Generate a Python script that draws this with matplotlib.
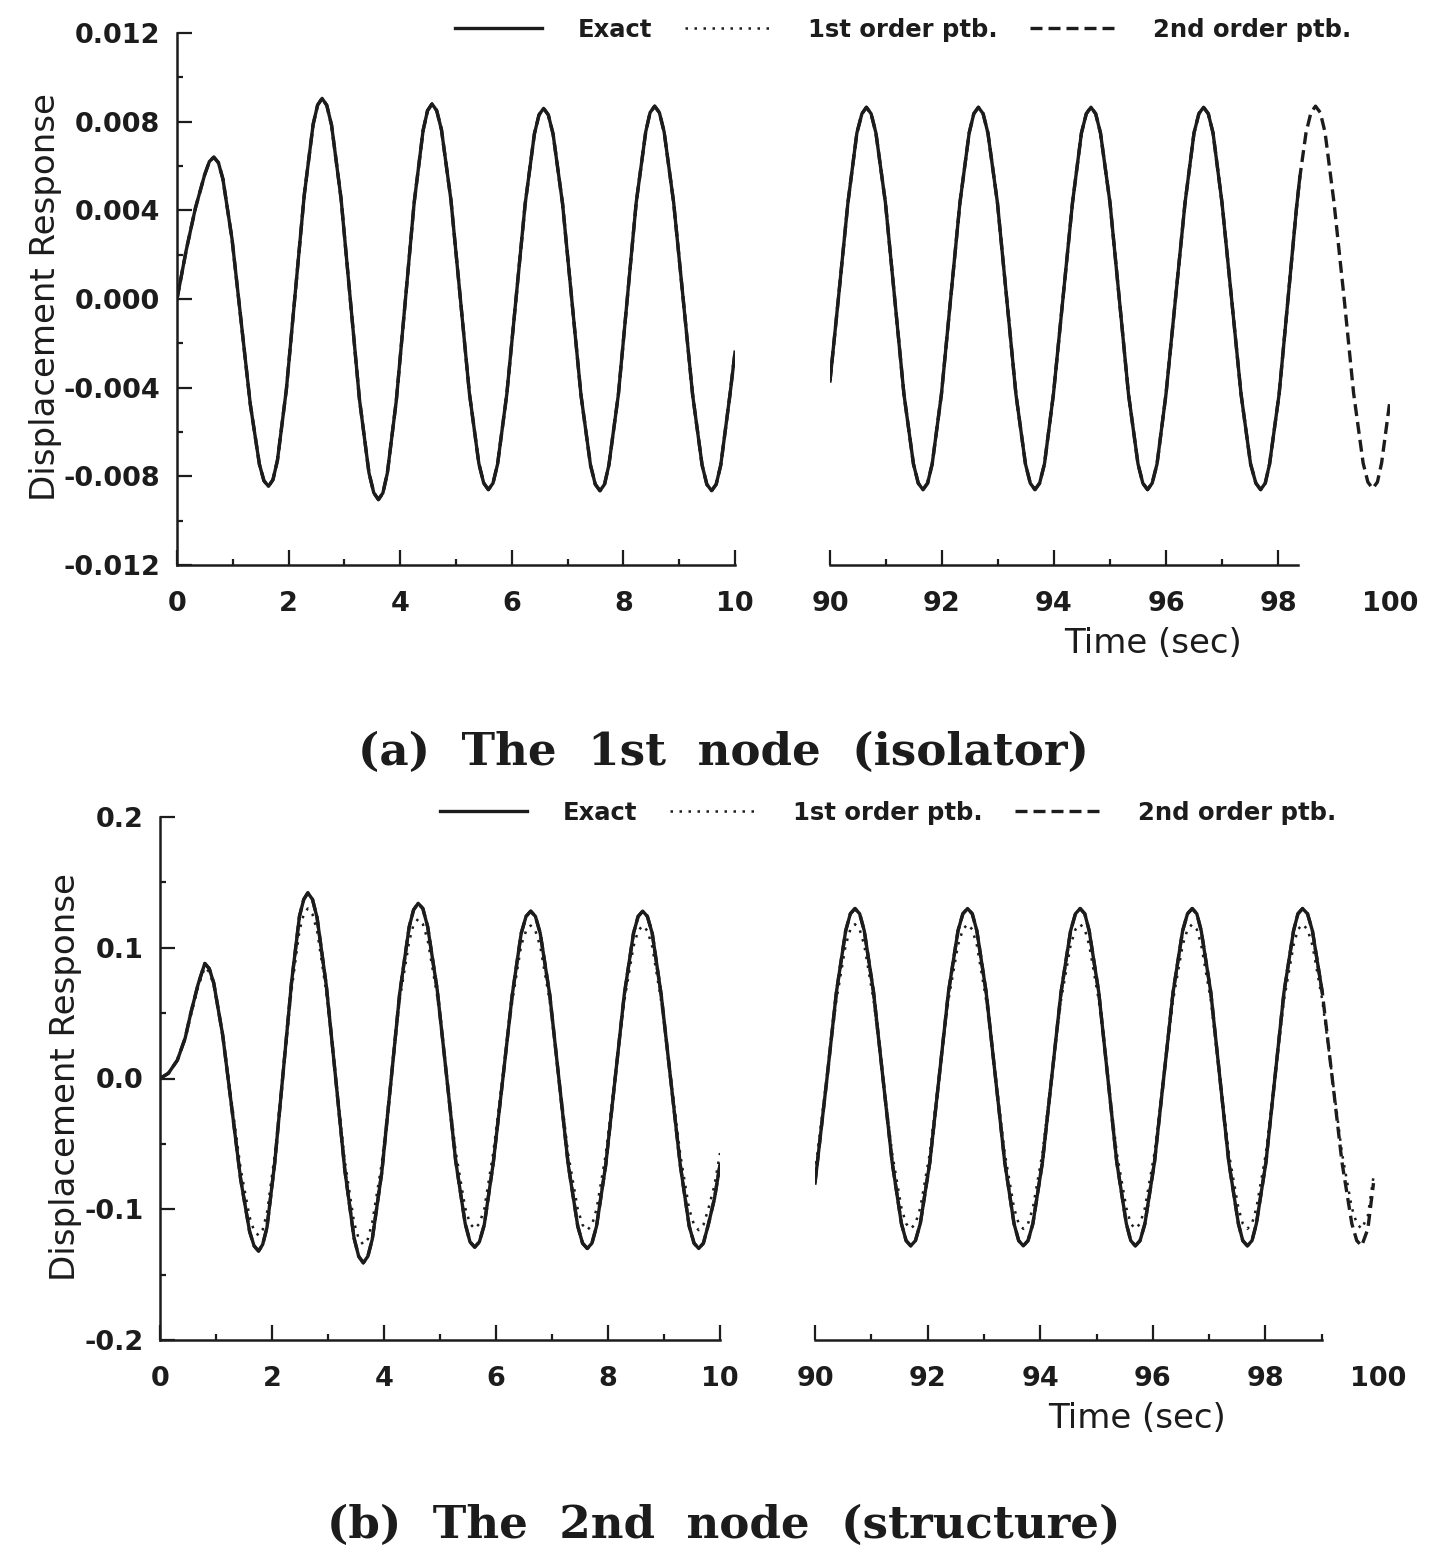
import numpy as np
import matplotlib.pyplot as plt
from matplotlib.ticker import FixedLocator

plt.rcParams['font.family'] = ['DejaVu Sans']
plt.rcParams['font.weight'] = 'bold'
plt.rcParams['axes.unicode_minus'] = False

INK = '#1c1c1c'

# ---------------- (a) 1st node (isolator), displacement in 1e-3 ----------------
a_left_t = [0.0, 0.165, 0.33, 0.495, 0.58, 0.66,
            0.742, 0.823, 0.987, 1.15, 1.313, 1.477, 1.558, 1.64,
            1.72, 1.80, 1.96, 2.12, 2.28, 2.44, 2.52, 2.60,
            2.684, 2.77, 2.94, 3.105, 3.27, 3.44, 3.526, 3.61,
            3.69, 3.77, 3.93, 4.09, 4.25, 4.41, 4.49, 4.57,
            4.654, 4.74, 4.91, 5.075, 5.24, 5.41, 5.496, 5.58,
            5.663, 5.745, 5.91, 6.075, 6.24, 6.405, 6.488, 6.57,
            6.654, 6.74, 6.91, 7.075, 7.24, 7.41, 7.496, 7.58,
            7.662, 7.74, 7.91, 8.07, 8.23, 8.40, 8.478, 8.56,
            8.645, 8.73, 8.90, 9.07, 9.24, 9.41, 9.495, 9.58,
            9.663, 9.745, 9.91, 10.0]
a_left_exact = [0.0, 2.2, 4.1, 5.6, 6.2, 6.4,
                6.15, 5.41, 2.69, -1.03, -4.74, -7.46, -8.20, -8.45,
                -8.15, -7.28, -4.08, 0.30, 4.68, 7.88, 8.75, 9.05,
                8.74, 7.84, 4.53, 0.0, -4.53, -7.84, -8.74, -9.05,
                -8.75, -7.85, -4.59, -0.13, 4.34, 7.60, 8.5, 8.8,
                8.5, 7.63, 4.45, 0.10, -4.25, -7.43, -8.3, -8.6,
                -8.31, -7.45, -4.3, 0.0, 4.3, 7.45, 8.31, 8.6,
                8.31, 7.44, 4.29, -0.03, -4.34, -7.49, -8.36, -8.65,
                -8.36, -7.49, -4.31, 0.03, 4.36, 7.54, 8.41, 8.7,
                8.41, 7.54, 4.36, 0.03, -4.31, -7.49, -8.36, -8.65,
                -8.36, -7.49, -4.31, -2.4]
# perturbation results cannot be told apart from the exact one in (a)
a_left_ptb1 = a_left_exact
a_left_ptb2 = a_left_exact

a_right_t = [90.0, 90.15, 90.32, 90.48, 90.57, 90.65,
             90.734, 90.82, 90.99, 91.155, 91.32, 91.49, 91.576, 91.66,
             91.743, 91.825, 91.99, 92.155, 92.32, 92.485, 92.568, 92.65,
             92.734, 92.82, 92.99, 93.155, 93.32, 93.49, 93.576, 93.66,
             93.743, 93.83, 93.99, 94.16, 94.33, 94.49, 94.577, 94.66,
             94.744, 94.83, 95.0, 95.165, 95.33, 95.50, 95.586, 95.67,
             95.753, 95.84, 96.0, 96.17, 96.34, 96.50, 96.587, 96.67,
             96.755, 96.84, 97.0, 97.17, 97.34, 97.51, 97.605, 97.69,
             97.772, 97.85, 98.02, 98.18, 98.33, 98.39, 98.50, 98.588, 98.67,
             98.755, 98.84, 99.0, 99.18, 99.35, 99.52, 99.605, 99.69,
             99.775, 99.85, 100.0]
a_right_ptb2 = [-3.7, 0.03, 4.34, 7.49, 8.36, 8.65,
                8.36, 7.49, 4.34, 0.03, -4.29, -7.44, -8.31, -8.6,
                -8.31, -7.44, -4.29, 0.03, 4.34, 7.49, 8.36, 8.65,
                8.36, 7.49, 4.34, 0.03, -4.29, -7.44, -8.31, -8.6,
                -8.31, -7.44, -4.29, 0.03, 4.34, 7.49, 8.36, 8.65,
                8.36, 7.49, 4.34, 0.03, -4.29, -7.44, -8.31, -8.6,
                -8.31, -7.44, -4.29, 0.03, 4.34, 7.49, 8.36, 8.65,
                8.36, 7.49, 4.34, 0.03, -4.29, -7.44, -8.31, -8.6,
                -8.31, -7.44, -4.29, 0.03, 4.1, 5.5, 7.49, 8.41, 8.7,
                8.41, 7.52, 4.35, 0.05, -4.25, -7.40, -8.26, -8.55,
                -8.26, -7.4, -4.56]
a_right_exact = a_right_ptb2
a_right_ptb1 = a_right_ptb2
a_exact_end = 98.39      # exact / 1st order traces stop here
a_spine_end = 98.36

a_yticks = [-0.012, -0.008, -0.004, 0.0, 0.004, 0.008, 0.012]
a_yticklabels = ['-0.012', '-0.008', '-0.004', '0.000', '0.004', '0.008', '0.012']
a_yminor = [-0.010, -0.006, -0.002, 0.002, 0.006, 0.010]

# ---------------- (b) 2nd node (structure) ----------------
b_left_t = [0.0, 0.15, 0.31, 0.45, 0.55, 0.68, 0.80,
            0.88, 0.96, 1.12, 1.28, 1.44, 1.60, 1.68, 1.76,
            1.833, 1.91, 2.05, 2.20, 2.35, 2.49, 2.567, 2.64,
            2.723, 2.805, 2.97, 3.135, 3.30, 3.465, 3.548, 3.63,
            3.712, 3.79, 3.96, 4.12, 4.28, 4.45, 4.528, 4.61,
            4.694, 4.78, 4.95, 5.115, 5.28, 5.45, 5.536, 5.62,
            5.703, 5.79, 5.95, 6.12, 6.29, 6.45, 6.537, 6.62,
            6.704, 6.79, 6.96, 7.125, 7.29, 7.46, 7.546, 7.63,
            7.713, 7.795, 7.96, 8.125, 8.29, 8.455, 8.538, 8.62,
            8.703, 8.79, 8.95, 9.12, 9.29, 9.45, 9.537, 9.62,
            9.703, 9.79, 9.90, 10.0]
b_left_exact = [0.0, 0.004, 0.014, 0.031, 0.050, 0.072, 0.088,
                0.084, 0.073, 0.033, -0.022, -0.077, -0.117, -0.128, -0.132,
                -0.127, -0.114, -0.064, 0.005, 0.074, 0.124, 0.137, 0.142,
                0.137, 0.123, 0.071, 0.001, -0.070, -0.122, -0.136, -0.141,
                -0.136, -0.123, -0.072, -0.004, 0.065, 0.116, 0.129, 0.134,
                0.130, 0.116, 0.068, 0.003, -0.063, -0.111, -0.125, -0.129,
                -0.125, -0.112, -0.065, -0.001, 0.064, 0.111, 0.124, 0.128,
                0.124, 0.111, 0.064, -0.001, -0.066, -0.113, -0.126, -0.130,
                -0.126, -0.113, -0.066, -0.001, 0.064, 0.111, 0.124, 0.128,
                0.124, 0.111, 0.064, -0.001, -0.066, -0.113, -0.126, -0.130,
                -0.126, -0.112, -0.092, -0.066]
b_left_ptb1 = [0.0, 0.004, 0.014, 0.030, 0.048, 0.070, 0.085,
               0.0815, 0.071, 0.034, -0.018, -0.069, -0.106, -0.1165, -0.120,
               -0.1157, -0.103, -0.058, 0.005, 0.068, 0.113, 0.1257, 0.130,
               0.1256, 0.113, 0.066, 0.002, -0.063, -0.110, -0.1226, -0.127,
               -0.1228, -0.110, -0.065, -0.003, 0.060, 0.105, 0.1178, 0.122,
               0.118, 0.106, 0.063, 0.004, -0.056, -0.099, -0.111, -0.115,
               -0.111, -0.100, -0.057, 0.001, 0.059, 0.102, 0.113, 0.117,
               0.113, 0.101, 0.059, 0.001, -0.058, -0.100, -0.112, -0.116,
               -0.112, -0.100, -0.058, 0.001, 0.059, 0.101, 0.113, 0.117,
               0.113, 0.101, 0.059, 0.001, -0.058, -0.100, -0.112, -0.116,
               -0.112, -0.100, -0.082, -0.057]
b_left_ptb2 = b_left_exact

b_right_t = [90.0, 90.215, 90.38, 90.545, 90.628, 90.71,
             90.793, 90.875, 91.04, 91.205, 91.37, 91.535, 91.618, 91.70,
             91.784, 91.87, 92.04, 92.205, 92.37, 92.54, 92.626, 92.71,
             92.793, 92.875, 93.04, 93.205, 93.37, 93.535, 93.618, 93.70,
             93.784, 93.87, 94.04, 94.205, 94.37, 94.54, 94.626, 94.71,
             94.792, 94.87, 95.04, 95.20, 95.36, 95.53, 95.608, 95.69,
             95.774, 95.86, 96.03, 96.195, 96.36, 96.53, 96.616, 96.70,
             96.782, 96.86, 97.03, 97.19, 97.35, 97.52, 97.598, 97.68,
             97.762, 97.84, 98.01, 98.17, 98.33, 98.50, 98.578, 98.66,
             98.748, 98.835, 99.01, 99.185, 99.36, 99.535, 99.623, 99.71,
             99.82, 99.92]
b_right_ptb2 = [-0.080, 0.001, 0.066, 0.113, 0.126, 0.130,
                0.126, 0.113, 0.066, 0.001, -0.064, -0.111, -0.124, -0.128,
                -0.124, -0.111, -0.064, 0.001, 0.066, 0.113, 0.126, 0.130,
                0.126, 0.113, 0.066, 0.001, -0.064, -0.111, -0.124, -0.128,
                -0.124, -0.111, -0.064, 0.001, 0.066, 0.113, 0.126, 0.130,
                0.126, 0.113, 0.066, 0.001, -0.064, -0.111, -0.124, -0.128,
                -0.124, -0.111, -0.064, 0.001, 0.066, 0.113, 0.126, 0.130,
                0.126, 0.113, 0.066, 0.001, -0.064, -0.111, -0.124, -0.128,
                -0.124, -0.111, -0.064, 0.001, 0.066, 0.113, 0.126, 0.130,
                0.126, 0.113, 0.066, 0.001, -0.064, -0.111, -0.124, -0.128,
                -0.115, -0.080]
b_right_exact = b_right_ptb2
b_right_ptb1 = [-0.072, 0.002, 0.060, 0.102, 0.114, 0.118,
                0.114, 0.102, 0.060, 0.002, -0.057, -0.099, -0.111, -0.115,
                -0.111, -0.099, -0.057, 0.002, 0.060, 0.102, 0.114, 0.118,
                0.114, 0.102, 0.060, 0.002, -0.057, -0.099, -0.111, -0.115,
                -0.111, -0.099, -0.057, 0.002, 0.060, 0.102, 0.114, 0.118,
                0.114, 0.102, 0.060, 0.002, -0.057, -0.099, -0.111, -0.115,
                -0.111, -0.099, -0.057, 0.002, 0.060, 0.102, 0.114, 0.118,
                0.114, 0.102, 0.060, 0.002, -0.057, -0.099, -0.111, -0.115,
                -0.111, -0.099, -0.057, 0.002, 0.060, 0.102, 0.114, 0.118,
                0.114, 0.102, 0.060, 0.002, -0.057, -0.099, -0.111, -0.115,
                -0.105, -0.075]
b_exact_end = 99.01
b_ptb_end = 99.92
b_spine_end = 99.0

b_yticks = [-0.2, -0.1, 0.0, 0.1, 0.2]
b_yticklabels = ['-0.2', '-0.1', '0.0', '0.1', '0.2']
b_yminor = [-0.15, -0.05, 0.05, 0.15]

left_xmajor = [0, 2, 4, 6, 8, 10]
left_xminor = [1, 3, 5, 7, 9]
right_xmajor = [90, 92, 94, 96, 98, 100]

series_names = ['Exact', '1st order ptb.', '2nd order ptb.']
captions = ['(a)  The  1st  node  (isolator)', '(b)  The  2nd  node  (structure)']

W, H = 1444, 1557
fig = plt.figure(figsize=(W / 100, H / 100), dpi=100)


def px_axes(x0, x1, ytop, ybot):
    return fig.add_axes([x0 / W, 1 - ybot / H, (x1 - x0) / W, (ybot - ytop) / H])


def draw(ax, t, exact, ptb1, ptb2, exact_end, ptb1_end, scale=1.0):
    t = np.asarray(t)
    exact = np.asarray(exact) * scale
    ptb1 = np.asarray(ptb1) * scale
    ptb2 = np.asarray(ptb2) * scale
    k1 = t <= exact_end
    k2 = t <= ptb1_end
    lines = []
    lines += ax.plot(t[k1], exact[k1], color=INK, lw=2.4, solid_joinstyle='round')
    lines += ax.plot(t[k2], ptb1[k2], color=INK, lw=1.8, linestyle=(0, (1, 2.6)))
    lines += ax.plot(t, ptb2, color=INK, lw=2.4, linestyle=(0, (3.6, 1.8)))
    return lines


def style(ax, xlim, ylim, xmajor, xminor, left=True, spine_end=None):
    ax.set_xlim(*xlim)
    ax.set_ylim(*ylim)
    ax.patch.set_visible(False)
    ax.xaxis.set_major_locator(FixedLocator(xmajor))
    ax.xaxis.set_minor_locator(FixedLocator(xminor))
    for s in ['top', 'right']:
        ax.spines[s].set_visible(False)
    for s in ['left', 'bottom']:
        ax.spines[s].set_linewidth(1.8)
        ax.spines[s].set_color(INK)
    ax.tick_params(which='major', direction='in', length=11, width=1.6,
                   color=INK, labelcolor=INK, labelsize=19.5)
    ax.tick_params(which='minor', direction='in', length=4.5, width=1.6, color=INK)
    ax.tick_params(axis='x', which='major', pad=19)
    ax.tick_params(axis='y', which='major', pad=12)
    if not left:
        ax.spines['left'].set_visible(False)
        ax.tick_params(axis='y', which='both', left=False, labelleft=False)
    if spine_end is not None:
        ax.spines['bottom'].set_bounds(xlim[0], spine_end)
        ax.xaxis.get_major_ticks()[-1].tick1line.set_visible(False)


# ---- panel (a) ----
ax_al = px_axes(177, 735, 33, 565)
ax_ar = px_axes(830, 1390, 33, 565)
handles = draw(ax_al, a_left_t, a_left_exact, a_left_ptb1, a_left_ptb2, 10, 10, 1e-3)
draw(ax_ar, a_right_t, a_right_exact, a_right_ptb1, a_right_ptb2,
     a_exact_end, a_exact_end, 1e-3)
style(ax_al, (0, 10), (-0.012, 0.012), left_xmajor, left_xminor)
ax_al.set_yticks(a_yticks, labels=a_yticklabels)
ax_al.yaxis.set_minor_locator(FixedLocator(a_yminor))
style(ax_ar, (90, 100), (-0.012, 0.012), right_xmajor, [91, 93, 95, 97],
      left=False, spine_end=a_spine_end)

# ---- panel (b) ----
ax_bl = px_axes(160, 720, 817, 1340)
ax_br = px_axes(815, 1378, 817, 1340)
draw(ax_bl, b_left_t, b_left_exact, b_left_ptb1, b_left_ptb2, 10, 10)
draw(ax_br, b_right_t, b_right_exact, b_right_ptb1, b_right_ptb2, b_exact_end, b_ptb_end)
style(ax_bl, (0, 10), (-0.2, 0.2), left_xmajor, left_xminor)
ax_bl.set_yticks(b_yticks, labels=b_yticklabels)
ax_bl.yaxis.set_minor_locator(FixedLocator(b_yminor))
style(ax_br, (90, 100), (-0.2, 0.2), right_xmajor, [91, 93, 95, 97, 99],
      left=False, spine_end=b_spine_end)

# legends, axis titles and captions
for cx, cy in [(903, 30), (888, 813)]:
    fig.legend(handles, series_names, loc='center', bbox_to_anchor=(cx / W, 1 - cy / H),
               ncol=3, frameon=False, fontsize=17.5, handlelength=3.6,
               handletextpad=1.45, columnspacing=1.35, labelcolor=INK)

for (cx, cy) in [(46, 297), (66, 1077)]:
    fig.text(cx / W, 1 - cy / H, 'Displacement Response', rotation=90, ha='center',
             va='center', fontsize=24.5, fontweight='normal', color=INK)
for (cx, cy) in [(1153, 643), (1137, 1419)]:
    fig.text(cx / W, 1 - cy / H, 'Time (sec)', ha='center', va='center',
             fontsize=24.5, fontweight='normal', color=INK)
for cap, (cx, cy) in zip(captions, [(723, 752), (724, 1525)]):
    fig.text(cx / W, 1 - cy / H, cap, ha='center', va='center', family='DejaVu Serif',
             fontweight='bold', fontsize=32.5, color=INK)

fig.savefig('out.png', dpi=100)
